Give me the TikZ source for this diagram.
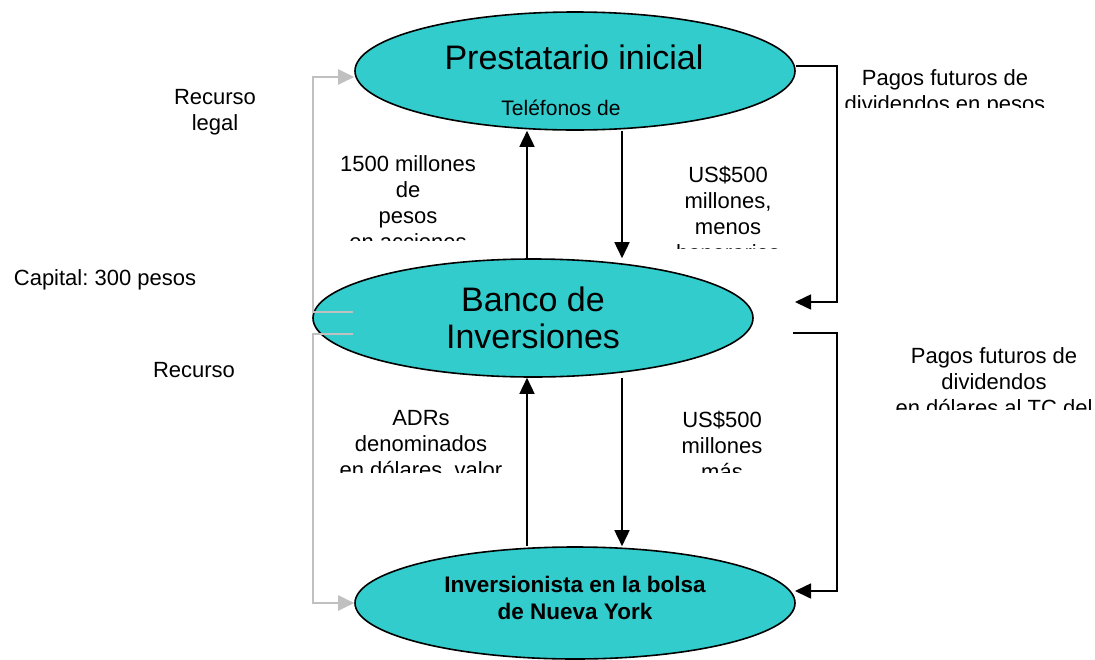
\documentclass[tikz,border=0pt]{standalone}
\usepackage{fontspec}
\setmainfont{Liberation Sans}
\usetikzlibrary{shapes.geometric,arrows.meta}
\definecolor{turq}{RGB}{51,204,204}
\definecolor{ltgray}{RGB}{192,192,192}
\newcommand{\bigtxt}{\fontsize{34}{37}\selectfont}
\newcommand{\lbltxt}{\fontsize{22}{26}\selectfont}
\frenchspacing
\tikzset{
  party/.style={ellipse,draw=black,line width=1.6pt,fill=turq,
    minimum width=440pt,minimum height=118pt,inner sep=0pt},
  lbl/.style={align=center,font=\lbltxt,inner sep=0pt},
  flow/.style={line width=1.6pt,-{Triangle[length=16pt,width=15pt]}},
  recurso/.style={draw=ltgray,line width=2pt,-{Triangle[length=16pt,width=15pt]}},
}

\begin{document}
\begin{tikzpicture}[x=1pt,y=-1pt]
    \useasboundingbox (0,0) rectangle (1095,659);
    % the three parties
    \node[party] (prest) at (575,71) {};
    \node[party,align=center,font=\bigtxt] (banco) at (533,318) {Banco de\\Inversiones};
    \node[party,minimum height=112pt] (inver) at (575,603) {};
    \node[font=\bigtxt,inner sep=0pt] (prestT) at (574,57) {Prestatario inicial};
    \node[font=\fontsize{21}{24}\selectfont,inner sep=0pt] (telef) at (561,108) {Teléfonos de};
    \node[align=center,font=\fontsize{22.5}{27}\selectfont\bfseries,inner sep=0pt] (inverT) at (575,598)
        {Inversionista en la bolsa\\de Nueva York};
    % helper coordinates
    \coordinate (xa) at (527,0);
    \coordinate (xb) at (622,0);
    \coordinate (rx) at (837,0);
    \coordinate (gx) at (313,0);
    \coordinate (pinA) at (795,302);
    \coordinate (outB) at (793,333);
    \coordinate (pinB) at (795,591);
    \coordinate (gtop) at ([yshift=-6pt]prest.west);
    \coordinate (gA) at ([shift={(41pt,6pt)}]banco.west);
    \coordinate (gB) at ([shift={(41pt,-16pt)}]banco.west);
    % flows between the parties
    \draw[flow] (banco.north -| xa) -- (prest.south -| xa);
    \draw[flow] (prest.south -| xb) -- (banco.north -| xb);
    \draw[flow] (inver.north -| xa) -- (banco.south -| xa);
    \draw[flow] (banco.south -| xb) -- (inver.north -| xb);
    \draw[flow] ([yshift=5pt]prest.east) -| (rx |- pinA) -- (pinA);
    \draw[flow] (outB) -| (rx |- pinB) -- (pinB);
    % legal recourse
    \draw[recurso] (gA) -- (gA -| gx) |- (gtop);
    \draw[recurso] (gB) -- (gB -| gx) |- (inver.west);
    % labels
    \node[lbl] (recA) at (215,112) {Recurso\\legal};
    \node[lbl] (capital) at (105,280) {Capital: 300 pesos};
    \node[lbl] (recB) at (194,370) {Recurso};
    \begin{scope}
        \clip (0,0) rectangle (1095,240);
        \node[lbl] (accL) at (408,203) {1500 millones\\de\\pesos\\en acciones};
    \end{scope}
    \begin{scope}
        \clip (0,0) rectangle (1095,248);
        \node[lbl] (usdA) at (728,213) {US\$500\\millones,\\menos\\honorarios};
    \end{scope}
    \begin{scope}
        \clip (0,0) rectangle (1095,107);
        \node[lbl] (pagA) at (945,93) {Pagos futuros de\\dividendos en pesos};
    \end{scope}
    \begin{scope}
        \clip (0,0) rectangle (1095,409);
        \node[lbl] (pagB) at (994,382) {Pagos futuros de\\dividendos\\en dólares al TC del};
    \end{scope}
    \begin{scope}
        \clip (0,0) rectangle (1095,472);
        \node[lbl] (adr) at (421,445) {ADRs\\denominados\\en dólares, valor};
        \node[lbl] (usdB) at (722,445) {US\$500\\millones\\más};
    \end{scope}
\end{tikzpicture}
\end{document}
